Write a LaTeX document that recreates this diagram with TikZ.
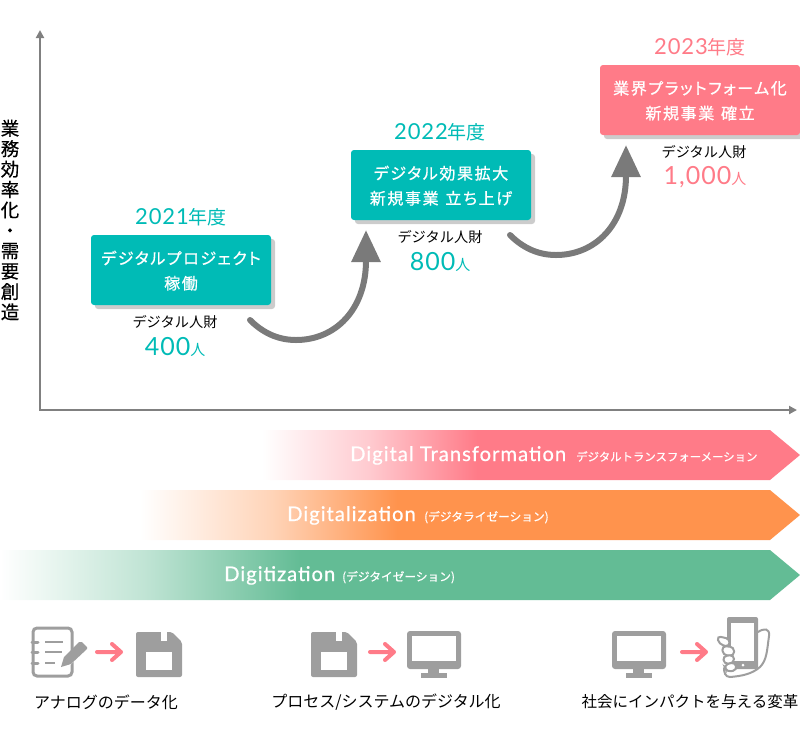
\documentclass[tikz,border=0pt]{standalone}
\usepackage{fontspec}
\setmainfont{Noto Sans CJK JP}
\newfontfamily\latofont[LetterSpace=4]{Lato}
\newfontfamily\latobold[LetterSpace=5,FakeBold=0.6]{Lato}
\newfontfamily\jpwide[LetterSpace=10,WordSpace=1.3,FakeBold=0.8,RawFeature=+palt]{Noto Sans CJK JP}
\newfontfamily\jpmid[FakeBold=0.6]{Noto Sans CJK JP}
\newfontfamily\jptitle[FakeBold=0.5]{Noto Sans CJK JP}
\usetikzlibrary{arrows.meta,shadows,positioning}
\definecolor{tealc}{HTML}{00BBB6}
\definecolor{pinkc}{HTML}{FF7B88}
\definecolor{orangec}{HTML}{FF934D}
\definecolor{greenc}{HTML}{63BC95}
\definecolor{iconc}{HTML}{9E9E9E}
\definecolor{axisc}{HTML}{808080}
\definecolor{curvec}{HTML}{7A7A7A}
\pgfdeclarehorizontalshading{pinkfade}{100bp}{color(0bp)=(white); color(25bp)=(white); color(35bp)=(pinkc!40); color(45bp)=(pinkc); color(100bp)=(pinkc)}
\pgfdeclarehorizontalshading{orangefade}{100bp}{color(0bp)=(white); color(25bp)=(white); color(35bp)=(orangec!40); color(44.5bp)=(orangec); color(100bp)=(orangec)}
\pgfdeclarehorizontalshading{greenfade}{100bp}{color(0bp)=(white); color(25bp)=(white); color(34bp)=(greenc!40); color(43.75bp)=(greenc); color(100bp)=(greenc)}
\tikzset{
  yearbox/.style={fill=#1,rounded corners=3pt,minimum width=180pt,minimum height=70pt,inner sep=0pt,
    text=white,align=center,text depth=-2pt,font=\fontsize{16}{25}\selectfont\jpwide,
    drop shadow={shadow xshift=4pt,shadow yshift=-4pt,fill=black!20,opacity=1}},
  yearlabel/.style={text=#1,inner sep=0pt,font=\fontsize{19}{20}\selectfont},
  stafflabel/.style={inner sep=0pt,font=\fontsize{14.2}{16}\selectfont},
  countlabel/.style={text=#1,inner sep=0pt,font=\fontsize{15}{18}\selectfont},
  bannerlabel/.style={text=white,inner sep=0pt,anchor=base west,font=\fontsize{20.2}{22}\selectfont\latobold},
  bannersub/.style={text=white,inner sep=0pt,anchor=base west,font=\fontsize{11.4}{13}\selectfont\jpmid},
  bottomlabel/.style={inner sep=0pt,font=\fontsize{16}{18}\selectfont},
  axisline/.style={line width=2pt,color=axisc,{Triangle[length=8pt,width=8pt]}-{Triangle[length=8pt,width=8pt]}},
  curvearrow/.style={line width=6pt,color=curvec,line cap=round,-{Triangle[length=32pt,width=28pt]}},
  pinkarrow/.pic={\draw[line width=4pt,color=pinkc,line cap=round,line join=round]
    (0,0) -- (24,0) (15,-8) -- (24,0) -- (15,8);},
  floppy/.pic={
    \fill[iconc,rounded corners=2pt] (0,0) -- (36,0) -- (46,10) -- (46,45) -- (0,45) -- cycle;
    \fill[white] (10,20) rectangle (36,38);
    \fill[white] (25,0) rectangle (31,9);},
  monitor/.pic={
    \fill[iconc,rounded corners=3pt] (0,0) rectangle (54,38);
    \fill[white] (5,5) rectangle (49,30);
    \fill[iconc] (21,38) rectangle (32,43);
    \fill[iconc] (14,42) rectangle (40,47);},
  fingertip/.style={draw=iconc,line width=2pt,fill=white,rounded corners=4pt}
}
\begin{document}
\begin{tikzpicture}[x=1pt,y=-1pt]
    \useasboundingbox (0,0) rectangle (800,740);

    %axes
    \coordinate (axtop) at (40,30);
    \coordinate (axorigin) at (40,410);
    \coordinate (axright) at (797,410);
    \draw [axisline] (axtop) -- (axorigin) -- (axright);
    \node [inner sep=0pt,align=center,font=\fontsize{18.5}{20.4}\selectfont\jptitle] (axtitle) at (10,220)
        {業\\務\\効\\率\\化\\・\\需\\要\\創\\造};

    %nodes
    \node [yearlabel=tealc] (year21) at (181,217) {{\latofont\fontsize{22}{23}\selectfont 2021}年度};
    \node [yearbox=tealc] (box21) at (181,270) {デジタルプロジェクト\\稼働};
    \node [stafflabel] (staff21) at (175,322) {デジタル人財};
    \node [countlabel=tealc] (count21) at (175,347) {{\latofont\fontsize{25}{26}\selectfont 400}人};

    \node [yearlabel=tealc] (year22) at (440,132) {{\latofont\fontsize{22}{23}\selectfont 2022}年度};
    \node [yearbox=tealc] (box22) at (441,185) {デジタル効果拡大\\新規事業 立ち上げ};
    \node [stafflabel] (staff22) at (440,237) {デジタル人財};
    \node [countlabel=tealc] (count22) at (440,262) {{\latofont\fontsize{25}{26}\selectfont 800}人};

    \node [yearlabel=pinkc] (year23) at (700,47) {{\latofont\fontsize{22}{23}\selectfont 2023}年度};
    \node [yearbox=pinkc,minimum width=200pt] (box23) at (700,100) {業界プラットフォーム化\\新規事業 確立};
    \node [stafflabel] (staff23) at (704,152) {デジタル人財};
    \node [countlabel=pinkc] (count23) at (705,177) {{\latofont\fontsize{25}{26}\selectfont 1,000}人};

    %curved arrows
    \coordinate (from21) at (250,320);
    \coordinate (to22) at (366,230);
    \draw [curvearrow] (from21) .. controls (262,332) and (277,340) .. (296,340)
        .. controls (335,340) and (366,310) .. (to22);
    \coordinate (from22) at (510,235);
    \coordinate (to23) at (626,145);
    \draw [curvearrow] (from22) .. controls (522,247) and (537,255) .. (556,255)
        .. controls (595,255) and (626,225) .. (to23);

    %banners
    \shade [shading=pinkfade] (262,430) -- (770,430) -- (800,455) -- (770,480) -- (262,480) -- cycle;
    \shade [shading=orangefade] (140,490) -- (770,490) -- (800,515) -- (770,540) -- (140,540) -- cycle;
    \shade [shading=greenfade] (0,550) -- (770,550) -- (800,575) -- (770,600) -- (0,600) -- cycle;

    \node [bannerlabel] (dxname) at (350,461) {Digital Transformation};
    \node [bannersub] (dxkana) at (576,461) {デジタルトランスフォーメーション};
    \node [bannerlabel] (dzname) at (287,521) {Digitalization};
    \node [bannersub,font=\fontsize{11.7}{13}\selectfont\jpmid] (dzkana) at (424,521) {(デジタライゼーション)};
    \node [bannerlabel] (dgname) at (224,581) {Digitization};
    \node [bannersub,font=\fontsize{11.7}{13}\selectfont\jpmid] (dgkana) at (342,581) {(デジタイゼーション)};

    %icons
    \draw [iconc,line width=3pt,rounded corners=4pt] (33,628) rectangle (72,676);
    \draw [white,line width=9pt] (62,667) -- (84,645);
    \draw [iconc,line width=3pt,line cap=round] (32,642) -- (38,642) (32,652) -- (38,652) (32,663) -- (38,663);
    \draw [iconc,line width=2.5pt] (45,642) -- (63,642) (45,652) -- (62,652) (45,663) -- (55,663);
    \fill [iconc] (61,667) -- (64,657) -- (79,642) -- (82,642) -- (87,647) -- (87,649) -- (71,664) -- cycle;
    \pic at (97,652) {pinkarrow};
    \pic at (136,632) {floppy};
    \pic at (311,632) {floppy};
    \pic at (370,652) {pinkarrow};
    \pic at (407,631) {monitor};
    \pic at (612,631) {monitor};
    \pic at (682,652) {pinkarrow};

    %phone in hand
    \draw [iconc,line width=2pt,line cap=round] (758,632) .. controls (764,628) and (770,628) .. (769,636)
        .. controls (767,650) and (767,660) .. (760,667) .. controls (752,674) and (742,676) .. (730,677) .. controls (725,677) and (724,672) .. (724,668);
    \fill [iconc,rounded corners=2pt] (727,617) rectangle (758,669);
    \fill [white] (731,623) rectangle (754,661);
    \fill [white] (743,665) circle (1.5pt);
    \draw [fingertip] (717,636) -- (730,639) -- (729,647) -- (719,644) -- cycle;
    \draw [fingertip] (722,646) -- (734,647) -- (734,656) -- (723,655) -- cycle;
    \draw [fingertip] (723,656) -- (734,655) -- (734,663) -- (724,664) -- cycle;
    \draw [fingertip] (724,665) -- (735,662) -- (737,670) -- (727,672) -- cycle;

    %labels under the icons
    \node [bottomlabel] (tag1) at (106,702) {アナログのデータ化};
    \node [bottomlabel] (tag2) at (386,702) {プロセス/システムのデジタル化};
    \node [bottomlabel,font=\fontsize{15.5}{18}\selectfont] (tag3) at (690,702) {社会にインパクトを与える変革};
\end{tikzpicture}
\end{document}
